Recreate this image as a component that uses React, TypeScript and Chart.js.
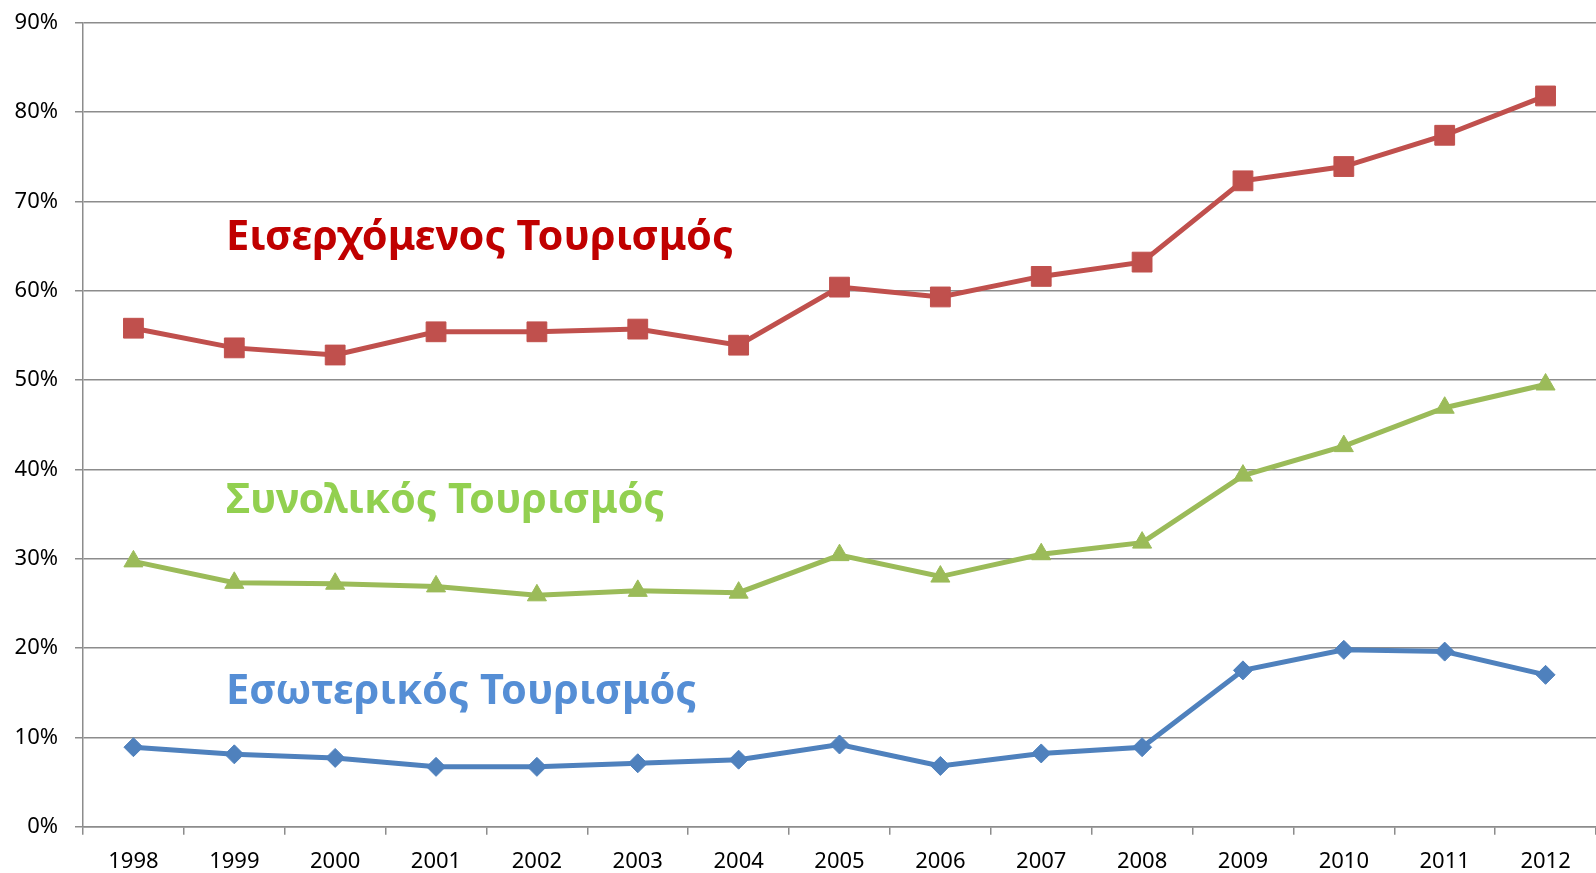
import React, { useEffect, useRef } from "react";
import { Chart, registerables } from "chart.js";

Chart.register(...registerables);

const years = ["1998", "1999", "2000", "2001", "2002", "2003", "2004", "2005", "2006", "2007", "2008", "2009", "2010", "2011", "2012"];
const incoming = [55.8, 53.6, 52.8, 55.4, 55.4, 55.7, 53.9, 60.4, 59.3, 61.6, 63.2, 72.3, 73.9, 77.4, 81.8];
const total = [29.7, 27.3, 27.2, 26.9, 25.9, 26.4, 26.2, 30.4, 28.0, 30.5, 31.8, 39.3, 42.6, 46.9, 49.5];
const domestic = [8.9, 8.1, 7.7, 6.7, 6.7, 7.1, 7.5, 9.2, 6.8, 8.2, 8.9, 17.5, 19.8, 19.6, 17.0];
const seriesLabels = ["Εισερχόμενος Τουρισμός", "Συνολικός Τουρισμός", "Εσωτερικός Τουρισμός"];

const FONT = "'Noto Sans', sans-serif";
const GRID = "#8c8c8c";

const textPlugin = {
  id: "seriesText",
  afterDraw(chart: any) {
    const ctx = chart.ctx;
    const items = [
      { text: seriesLabels[0], color: "#C00000", x: 226, y: 250 },
      { text: seriesLabels[1], color: "#92D050", x: 226, y: 513 },
      { text: seriesLabels[2], color: "#558ED5", x: 226, y: 704 },
    ];
    ctx.save();
    ctx.font = `bold 41.5px ${FONT}`;
    ctx.textAlign = "left";
    ctx.textBaseline = "alphabetic";
    for (const it of items) {
      ctx.fillStyle = it.color;
      ctx.fillText(it.text, it.x, it.y);
    }
    ctx.restore();
  },
};

export default function App() {
  const ref = useRef<HTMLCanvasElement | null>(null);
  useEffect(() => {
    document.body.style.margin = "0";
    const canvas = ref.current!;
    const chart = new Chart(canvas, {
      type: "line",
      data: {
        labels: years,
        datasets: [
          {
            label: seriesLabels[0],
            data: incoming,
            borderColor: "#C0504D",
            backgroundColor: "#C0504D",
            borderWidth: 5,
            pointStyle: "rect",
            pointRadius: 14,
            pointBorderWidth: 1,
            tension: 0,
          },
          {
            label: seriesLabels[1],
            data: total,
            borderColor: "#9BBB59",
            backgroundColor: "#9BBB59",
            borderWidth: 5,
            pointStyle: "triangle",
            pointRadius: 11,
            pointBorderWidth: 1,
            tension: 0,
          },
          {
            label: seriesLabels[2],
            data: domestic,
            borderColor: "#4F81BD",
            backgroundColor: "#4F81BD",
            borderWidth: 5,
            pointStyle: "rectRot",
            pointRadius: 9.5,
            pointBorderWidth: 1,
            tension: 0,
          },
        ],
      },
      options: {
        animation: false,
        responsive: false,
        maintainAspectRatio: false,
        layout: { autoPadding: false, padding: { top: 22.7, right: 0, bottom: 0, left: 0 } },
        plugins: { legend: { display: false }, tooltip: { enabled: false } },
        scales: {
          x: {
            offset: true,
            grid: {
              offset: true,
              drawOnChartArea: false,
              drawTicks: true,
              tickLength: 8,
              color: GRID,
              lineWidth: 1.5,
            },
            border: { color: GRID, width: 1.5 },
            ticks: { color: "#000", font: { family: FONT, size: 22 }, padding: 14, maxRotation: 0, autoSkip: false },
            afterFit(scale: any) {
              scale.height = 46.3;
              scale.paddingLeft = 0;
              scale.paddingRight = 0;
            },
          },
          y: {
            min: 0,
            max: 90,
            grid: { color: GRID, lineWidth: 1.5, drawTicks: true, tickLength: 8 },
            border: { color: GRID, width: 1.5 },
            ticks: {
              stepSize: 10,
              color: "#000",
              font: { family: FONT, size: 22 },
              padding: 17,
              callback: (v: any) => `${v}%`,
            },
            afterFit(scale: any) {
              scale.width = 83;
              scale.paddingTop = 0;
              scale.paddingBottom = 0;
            },
          },
        },
      },
      plugins: [textPlugin],
    });
    return () => chart.destroy();
  }, []);
  return (
    <div style={{ width: 1596, height: 873, position: "relative" }}>
      <canvas ref={ref} width={1596} height={873} style={{ display: "block", width: 1596, height: 873 }} />
    </div>
  );
}
